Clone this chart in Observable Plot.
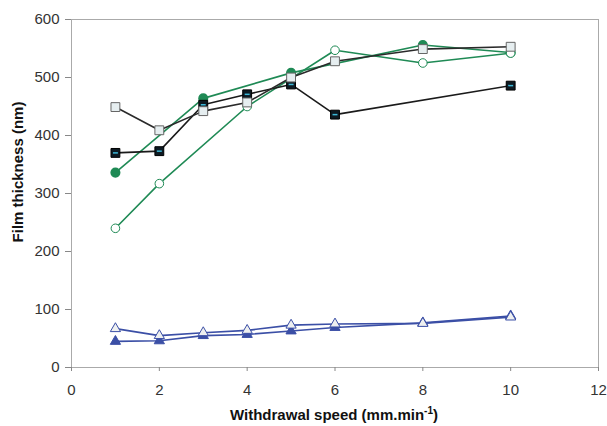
<!DOCTYPE html>
<html><head><meta charset="utf-8">
<script src="https://cdn.jsdelivr.net/npm/d3@7"></script>
<script src="https://cdn.jsdelivr.net/npm/@observablehq/plot@0.6"></script>
<style>body{margin:0;background:#fff;font-family:"Liberation Sans",Arial,sans-serif}</style>
</head><body><div id="chart"></div><script>
// Data
const speedBlackSq = [1,2,3,4,5,6,10];
const thickBlackSq = [370,373,453,471,488,436,486];
const speedOpenSq = [1,2,3,4,5,6,8,10];
const thickOpenSq = [449,409,442,457,500,528,549,553];
const speedGreenFilled = [1,3,5,8,10];
const thickGreenFilled = [336,464,508,556,543];
const speedGreenOpen = [1,2,4,6,8,10];
const thickGreenOpen = [240,317,450,547,525,542];
const speedTriOpen = [1,2,3,4,5,6,8,10];
const thickTriOpen = [67,55,60,64,73,75,76,87];
const speedTriFilled = [1,2,3,4,5,6,8,10];
const thickTriFilled = [45,46,55,57,63,69,77,89];
const xTicks = [0,2,4,6,8,10,12];
const yTicks = [0,100,200,300,400,500,600];

const mk = (xs, ys) => xs.map((x,i)=>({x, y: ys[i]}));
const blackSq = mk(speedBlackSq, thickBlackSq);
const openSq = mk(speedOpenSq, thickOpenSq);
const greenF = mk(speedGreenFilled, thickGreenFilled);
const greenO = mk(speedGreenOpen, thickGreenOpen);
const triO = mk(speedTriOpen, thickTriOpen);
const triF = mk(speedTriFilled, thickTriFilled);

const green = "#1f8a55", blue = "#3b4fa6", black = "#1a1a1a";
const dash = {draw(ctx, size){ const w = Math.sqrt(size)*0.28; ctx.moveTo(-w,0); ctx.lineTo(w,0); }};

const chart = Plot.plot({
  width: 607, height: 426,
  marginLeft: 71, marginTop: 19, marginRight: 9, marginBottom: 59,
  style: {fontFamily: '"Liberation Sans", Arial, sans-serif', background: "#fff"},
  x: {domain: [0,12]},
  y: {domain: [0,600]},
  marks: [
    Plot.frame({stroke: "#aaa"}),
    Plot.axisX({ticks: xTicks, tickSize: 4, tickPadding: 13, fontSize: 15, stroke: "#888", color: "#333", label: null}),
    Plot.axisY({ticks: yTicks, tickSize: 6, tickPadding: 6, fontSize: 15, stroke: "#888", color: "#333", label: null}),
    // triangles
    Plot.line(triF, {x:"x", y:"y", stroke: blue, strokeWidth: 1.6}),
    Plot.line(triO, {x:"x", y:"y", stroke: blue, strokeWidth: 1.6}),
    Plot.dot(triF, {x:"x", y:"y", symbol: "triangle", r: 3.8, fill: blue, stroke: blue, strokeWidth: 1}),
    Plot.dot(triO, {x:"x", y:"y", symbol: "triangle", r: 3.8, fill: "#eef0f0", stroke: blue, strokeWidth: 1}),
    // green
    Plot.line(greenF, {x:"x", y:"y", stroke: green, strokeWidth: 1.6}),
    Plot.line(greenO, {x:"x", y:"y", stroke: green, strokeWidth: 1.6}),
    Plot.dot(greenF, {x:"x", y:"y", r: 4.3, fill: green, stroke: green}),
    Plot.dot(greenO, {x:"x", y:"y", r: 4.3, fill: "#fff", stroke: green, strokeWidth: 1}),
    // black filled squares
    Plot.line(blackSq, {x:"x", y:"y", stroke: black, strokeWidth: 1.6}),
    Plot.dot(blackSq, {x:"x", y:"y", symbol: "square", r: 5, fill: "#0d1a22", stroke: "#000", strokeWidth: 1}),
    Plot.dot(blackSq, {x:"x", y:"y", symbol: dash, r: 5, fill: "none", stroke: "#3cb6d6", strokeWidth: 1.5}),
    // open squares
    Plot.line(openSq, {x:"x", y:"y", stroke: "#2a2a2a", strokeWidth: 1.6}),
    Plot.dot(openSq, {x:"x", y:"y", symbol: "square", r: 5, fill: "#e6eef0", stroke: "#666", strokeWidth: 1})
  ]
});
document.getElementById("chart").appendChild(chart);

const svg = d3.select(chart);
svg.append("text")
  .attr("transform", "translate(23,172) rotate(-90)")
  .attr("text-anchor", "middle")
  .attr("font-size", 15).attr("font-weight", "bold").attr("fill", "#111")
  .text("Film thickness (nm)");
const xt = svg.append("text")
  .attr("x", 334).attr("y", 420)
  .attr("text-anchor", "middle")
  .attr("font-size", 15).attr("font-weight", "bold").attr("fill", "#111");
xt.append("tspan").text("Withdrawal speed (mm.min");
xt.append("tspan").attr("dy", -6).attr("font-size", 10).text("-1");
xt.append("tspan").attr("dy", 6).text(")");
</script></body></html>
